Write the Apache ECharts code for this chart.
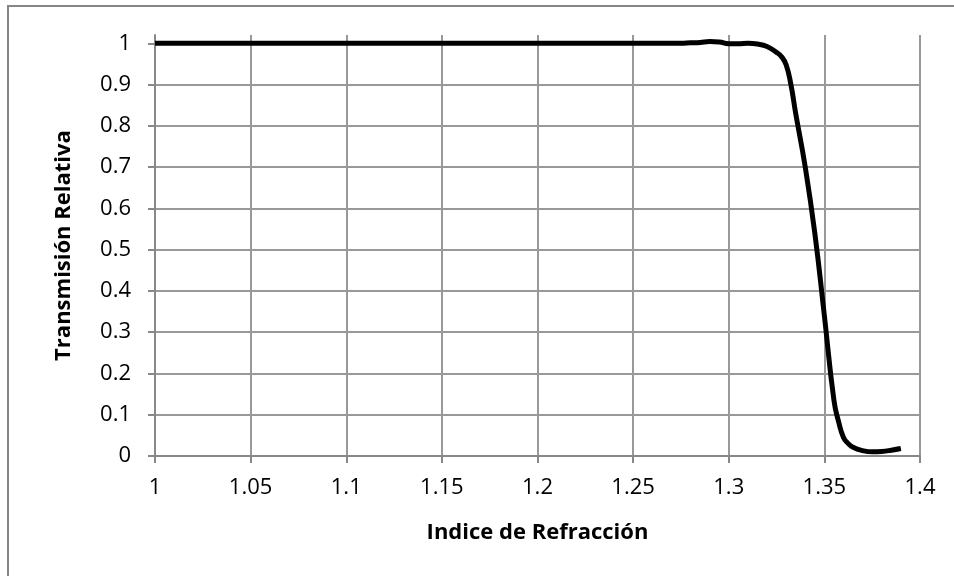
<!DOCTYPE html>
<html>
<head>
<meta charset="utf-8">
<script src="https://cdn.jsdelivr.net/npm/echarts@6/dist/echarts.min.js"></script>
<style>
  html, body { margin: 0; padding: 0; background: #fff; }
  #main { width: 954px; height: 576px; }
</style>
</head>
<body>
<div id="main"></div>
<script>
// índice de refracción (x) y transmisión relativa (y)
var indice = [1.00, 1.05, 1.10, 1.15, 1.20, 1.25, 1.26, 1.27,
  1.275, 1.28, 1.285, 1.29, 1.295, 1.30, 1.305, 1.31, 1.315, 1.32,
  1.325, 1.3275, 1.33, 1.3325, 1.335, 1.34, 1.345, 1.35, 1.355, 1.3575,
  1.36, 1.3625, 1.365, 1.37, 1.375, 1.38, 1.385, 1.39];
var transmision = [1, 1, 1, 1, 1, 1, 1, 1,
  1.0, 1.001, 1.002, 1.004, 1.003, 0.999, 0.999, 1.0, 0.998, 0.992,
  0.978, 0.968, 0.948, 0.90, 0.83, 0.70, 0.54, 0.34, 0.135, 0.082,
  0.045, 0.03, 0.021, 0.013, 0.01, 0.011, 0.014, 0.018];
var yTicks = [0, 0.1, 0.2, 0.3, 0.4, 0.5, 0.6, 0.7, 0.8, 0.9, 1];

var chart = echarts.init(document.getElementById("main"));
var pts = [];
for (var i = 0; i < indice.length; i++) {
  pts.push([indice[i], transmision[i]]);
}
var fuente = "Open Sans";
var option = {
  animation: false,
  backgroundColor: "#fff",
  grid: { left: 155, right: 34, top: 35, bottom: 120 },
  graphic: [{
    type: "rect",
    shape: { x: 8, y: 6, width: 980, height: 600 },
    style: { fill: "none", stroke: "#868686", lineWidth: 2 }
  }],
  xAxis: {
    type: "value",
    min: 1, max: 1.4, interval: 0.05,
    name: "Indice de Refracción",
    nameLocation: "middle",
    nameGap: 66,
    nameTextStyle: { fontFamily: fuente, fontSize: 22, fontWeight: "bold", color: "#000" },
    axisLine: { lineStyle: { color: "#888", width: 2 } },
    axisTick: { show: true, length: 7, lineStyle: { color: "#888", width: 2 } },
    axisLabel: {
      margin: 21, fontFamily: fuente, fontSize: 22, color: "#000",
      formatter: function (v) { return String(+v.toFixed(2)); }
    },
    splitLine: { show: true, lineStyle: { color: "#999", width: 2 } }
  },
  yAxis: {
    type: "value",
    min: 0, max: 1.02, interval: 0.1,
    name: "Transmisión Relativa",
    nameLocation: "middle",
    nameGap: 80,
    nameTextStyle: { fontFamily: fuente, fontSize: 22, fontWeight: "bold", color: "#000" },
    axisLine: { show: true, lineStyle: { color: "#888", width: 2 } },
    axisTick: { show: true, length: 7, customValues: yTicks, lineStyle: { color: "#888", width: 2 } },
    axisLabel: {
      margin: 24, fontFamily: fuente, fontSize: 22, color: "#000",
      customValues: yTicks,
      formatter: function (v) { return String(+v.toFixed(1)); }
    },
    splitLine: { show: true, showMaxLine: false, lineStyle: { color: "#999", width: 2 } }
  },
  series: [{
    type: "line",
    data: pts,
    smooth: 0.5,
    showSymbol: false,
    lineStyle: { color: "#000", width: 5 },
    itemStyle: { color: "#000" }
  }]
};
chart.setOption(option);
</script>
</body>
</html>
